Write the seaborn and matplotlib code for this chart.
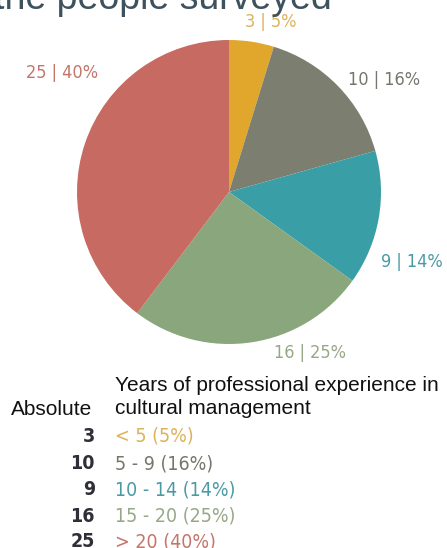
import matplotlib
matplotlib.use("Agg")
import matplotlib.pyplot as plt
import seaborn as sns

# Survey data: years of professional experience in cultural management
categories = ["< 5", "5 - 9", "10 - 14", "15 - 20", "> 20"]
counts = [3, 10, 9, 16, 25]
percents = [5, 16, 14, 25, 40]

slice_colors = ["#E0A72C", "#7C7E70", "#3A9EA6", "#8AA67C", "#C66A62"]
text_colors = ["#DDB25A", "#76776C", "#4A9AA6", "#97A886", "#C4756C"]

sns.set_theme(style="white")
plt.rcParams["font.family"] = ["Liberation Sans", "DejaVu Sans"]

W, H = 447, 548
fig = plt.figure(figsize=(W / 100, H / 100), dpi=100)
fig.patch.set_facecolor("white")

narrow = dict(family=["DejaVu Sans"], fontstretch="condensed")


def fy(y):
    return 1 - y / H


# Pie axes placed in pixel terms
cx, cy, r = 229, 192, 152
ax = fig.add_axes([(cx - r) / W, (H - cy - r) / H, 2 * r / W, 2 * r / H])
ax.pie(counts, colors=slice_colors, startangle=90, counterclock=False,
       radius=1.0, wedgeprops=dict(linewidth=0))
ax.set_xlim(-1, 1)
ax.set_ylim(-1, 1)
ax.set_aspect("equal")
ax.axis("off")

# Slice labels (pixel positions of label centres)
label_pos = [(271, 22), (384, 80), (412, 262), (310, 353), (62, 73)]
for (x, y), n, p, c in zip(label_pos, counts, percents, text_colors):
    fig.text(x / W, fy(y), f"{n} | {p}%", color=c, fontsize=13,
             ha="center", va="center", **narrow)

# Title, partly above the top edge
fig.text(-6 / W, fy(9), "the people surveyed", color="#3E525E",
         fontsize=27, ha="left", va="baseline")

# Table-style legend
fig.text(115 / W, fy(391), "Years of professional experience in",
         color="#111111", fontsize=15, ha="left", va="baseline")
fig.text(115 / W, fy(414), "cultural management",
         color="#111111", fontsize=15, ha="left", va="baseline")
fig.text(11 / W, fy(415), "Absolute",
         color="#111111", fontsize=15, ha="left", va="baseline")

row_base = [442, 469, 495, 522, 547]
for y, n, cat, p, c in zip(row_base, counts, categories, percents, text_colors):
    fig.text(95 / W, fy(y), f"{n}", color="#2F2F38", fontsize=14,
             ha="right", va="baseline", fontweight="semibold", **narrow)
    fig.text(115 / W, fy(y), f"{cat} ({p}%)", color=c, fontsize=14,
             ha="left", va="baseline", **narrow)

fig.savefig("out.png", dpi=100, facecolor="white")
